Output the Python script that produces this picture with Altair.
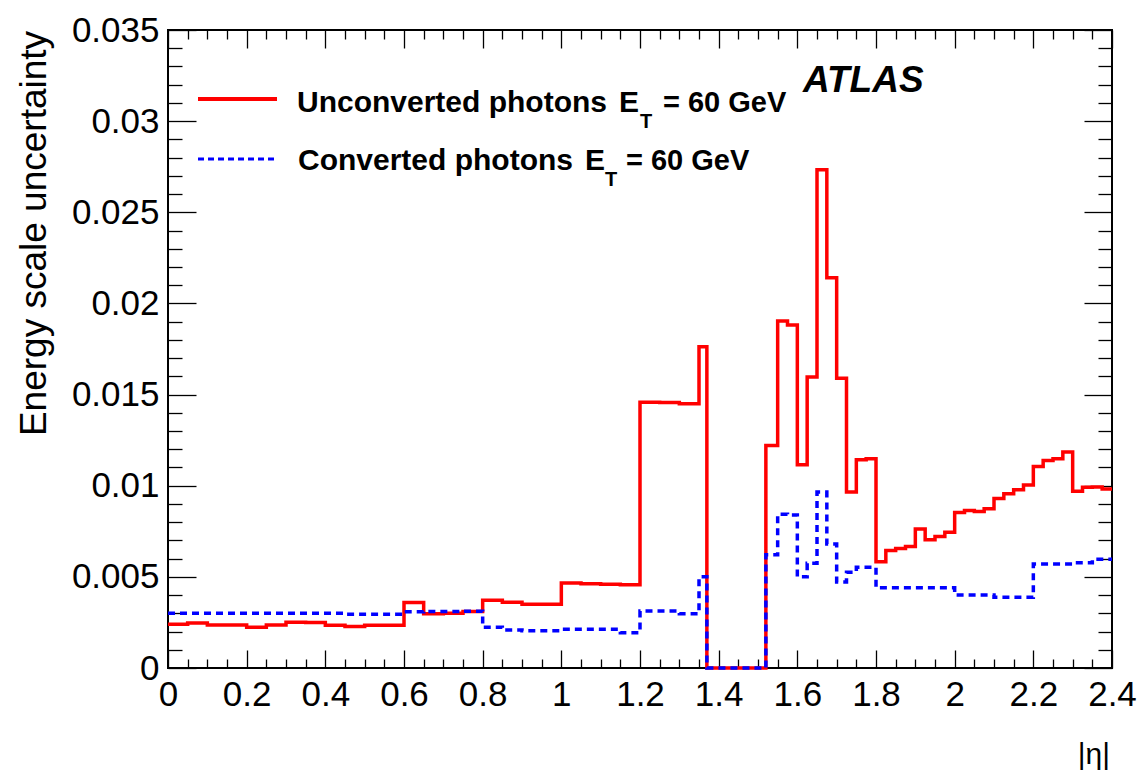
import altair as alt
import pandas as pd

# ---- data ----
eta_edges = [0.0, 0.05, 0.1, 0.15, 0.2, 0.25, 0.3, 0.35, 0.4, 0.45, 0.5, 0.55,
             0.6, 0.65, 0.7, 0.75, 0.8, 0.85, 0.9, 0.95, 1.0, 1.05, 1.1, 1.15,
             1.2, 1.25, 1.3, 1.35, 1.37, 1.52, 1.55, 1.575, 1.6, 1.625, 1.65,
             1.675, 1.7, 1.725, 1.75, 1.775, 1.8, 1.825, 1.85, 1.875, 1.9, 1.925,
             1.95, 1.975, 2.0, 2.025, 2.05, 2.075, 2.1, 2.125, 2.15, 2.175, 2.2,
             2.225, 2.25, 2.275, 2.3, 2.325, 2.35, 2.375, 2.4]

unconverted = [0.00240, 0.00247, 0.00236, 0.00236, 0.00224, 0.00236, 0.00251, 0.00250,
               0.00235, 0.00227, 0.00235, 0.00235, 0.00359, 0.00297, 0.00300, 0.00310,
               0.00372, 0.00361, 0.00350, 0.00350, 0.00466, 0.00462, 0.00460, 0.00457,
               0.01458, 0.01457, 0.01450, 0.01763, 0.0, 0.01220, 0.01903, 0.01881,
               0.01115, 0.01597, 0.02733, 0.02141, 0.01590, 0.00965, 0.01143, 0.01148,
               0.00583, 0.00645, 0.00655, 0.00667, 0.00762, 0.00703, 0.00722, 0.00745,
               0.00853, 0.00864, 0.00859, 0.00874, 0.00930, 0.00956, 0.00978, 0.01004,
               0.01106, 0.01139, 0.01148, 0.01185, 0.00969, 0.00991, 0.00993, 0.00982]

converted = [0.00300, 0.00300, 0.00300, 0.00300, 0.00300, 0.00300, 0.00300, 0.00300,
             0.00300, 0.00295, 0.00295, 0.00295, 0.00308, 0.00310, 0.00310, 0.00312,
             0.00223, 0.00209, 0.00204, 0.00204, 0.00212, 0.00212, 0.00212, 0.00193,
             0.00313, 0.00313, 0.00297, 0.00500, 0.0, 0.00621, 0.00844, 0.00840,
             0.00500, 0.00575, 0.00965, 0.00680, 0.00472, 0.00525, 0.00553, 0.00553,
             0.00440, 0.00440, 0.00440, 0.00440, 0.00440, 0.00440, 0.00440, 0.00440,
             0.00400, 0.00400, 0.00400, 0.00400, 0.00388, 0.00388, 0.00388, 0.00388,
             0.00571, 0.00571, 0.00571, 0.00571, 0.00578, 0.00578, 0.00597, 0.00597]

x_major = [0, 0.2, 0.4, 0.6, 0.8, 1, 1.2, 1.4, 1.6, 1.8, 2, 2.2, 2.4]
x_minor = [round(i * 0.05, 3) for i in range(49) if i % 4]
y_major = [0, 0.005, 0.01, 0.015, 0.02, 0.025, 0.03, 0.035]
y_minor = [round(i * 0.001, 4) for i in range(36) if i % 5]

legend_unconv = ["Unconverted photons", "E", "T", "= 60 GeV"]
legend_conv = ["Converted photons", "E", "T", "= 60 GeV"]


def step_frame(edges, vals):
    return pd.DataFrame({"eta": edges, "unc": list(vals) + [vals[-1]]})


df_red = step_frame(eta_edges, unconverted)
df_blue = step_frame(eta_edges, converted)

W, H = 944, 638
LEFT, TOP = 168, 30
xscale = alt.Scale(domain=[0, 2.4], nice=False, zero=False)
yscale = alt.Scale(domain=[0, 0.035], nice=False, zero=False)

FONT = "Liberation Sans"


def make_axis(orient, values, size, labels):
    kw = dict(orient=orient, values=values, tickSize=size, offset=-size, title=None,
              grid=False, domain=False, labels=labels, ticks=True, tickColor="black",
              tickWidth=1.3, labelFlush=False, labelOverlap=False)
    if labels:
        kw.update(labelFont=FONT, labelFontSize=35, labelColor="black",
                  labelPadding=9, format="~g")
    return alt.Axis(**kw)


red = alt.Chart(df_red).mark_line(
    color="#ff0000", strokeWidth=3.5, interpolate="step-after", strokeJoin="miter"
).encode(
    x=alt.X("eta:Q", scale=xscale, axis=make_axis("bottom", x_major, 18, True)),
    y=alt.Y("unc:Q", scale=yscale, axis=make_axis("left", y_major, 28, True)),
)

blue = alt.Chart(df_blue).mark_line(
    color="#0000ff", strokeWidth=3.5, interpolate="step-after", strokeDash=[7, 5],
    strokeJoin="miter"
).encode(
    x=alt.X("eta:Q", scale=xscale, axis=make_axis("bottom", x_minor, 9, False)),
    y=alt.Y("unc:Q", scale=yscale, axis=make_axis("left", y_minor, 14, False)),
)

frame_major = alt.Chart(df_red).mark_point(opacity=0).encode(
    x=alt.X("eta:Q", scale=xscale, axis=make_axis("top", x_major, 18, False)),
    y=alt.Y("unc:Q", scale=yscale, axis=make_axis("right", y_major, 28, False)),
)
frame_minor = alt.Chart(df_red).mark_point(opacity=0).encode(
    x=alt.X("eta:Q", scale=xscale, axis=make_axis("top", x_minor, 9, False)),
    y=alt.Y("unc:Q", scale=yscale, axis=make_axis("right", y_minor, 14, False)),
)

one = pd.DataFrame({"k": [0]})


def txt(text, x, y, size, bold=True, italic=False, align="left", angle=0):
    """x, y are page pixel positions; converted to plot-area offsets."""
    t = pd.DataFrame({"t": [text]})
    kw = dict(font=FONT, fontSize=size, fontWeight="bold" if bold else "normal",
              align=align, baseline="alphabetic", color="black")
    if italic:
        kw["fontStyle"] = "italic"
    if angle:
        kw["angle"] = angle
    return alt.Chart(t).mark_text(**kw).encode(
        x=alt.value(x - LEFT), y=alt.value(y - TOP), text="t:N")


# legend samples
leg_red = alt.Chart(one).mark_rule(color="#ff0000", strokeWidth=4).encode(
    x=alt.value(198 - LEFT), x2=alt.value(277 - LEFT), y=alt.value(99 - TOP))
leg_blue = alt.Chart(one).mark_rule(color="#0000ff", strokeWidth=3, strokeDash=[6, 4]).encode(
    x=alt.value(198 - LEFT), x2=alt.value(277 - LEFT), y=alt.value(159 - TOP))

texts = [
    txt(legend_unconv[0], 607, 111.5, 30, align="right"),
    txt(legend_unconv[1], 619, 111.5, 30),
    txt(legend_unconv[2], 640, 127.5, 20),
    txt(legend_unconv[3], 663, 111.5, 29),
    txt(legend_conv[0], 573, 170, 30, align="right"),
    txt(legend_conv[1], 585, 170, 30),
    txt(legend_conv[2], 605, 186, 20),
    txt(legend_conv[3], 626, 170, 29),
    txt("ATLAS", 803, 92, 37, italic=True),
    txt("Energy scale uncertainty", 46, 233.5, 37, bold=False, align="center", angle=270),
    txt("|\u03b7|", 1110, 764, 30, bold=False, align="right"),
]

chart = alt.layer(
    red, blue, frame_major, frame_minor, leg_red, leg_blue, *texts
).resolve_axis(
    x="independent", y="independent"
).properties(
    width=W, height=H,
    padding={"left": LEFT, "top": TOP, "right": 1140 - LEFT - W, "bottom": 775 - TOP - H},
    autosize=alt.AutoSizeParams(type="none"),
    background="white",
).configure_view(
    stroke="black", strokeWidth=2
)

chart.save("out.html", embed_options={"renderer": "svg", "actions": False})
